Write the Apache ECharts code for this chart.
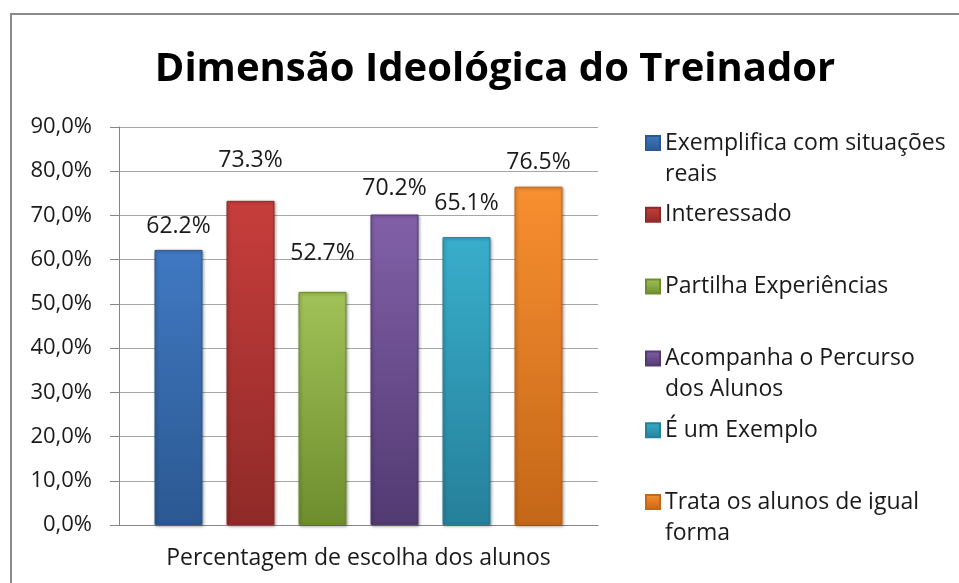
<!DOCTYPE html>
<html>
<head>
<meta charset="utf-8">
<script src="https://cdn.jsdelivr.net/npm/echarts@6/dist/echarts.min.js"></script>
<style>
  html, body { margin: 0; padding: 0; background: #fff; }
  #chart { width: 959px; height: 583px; }
</style>
</head>
<body>
<div id="chart"></div>
<script>
  // dados
  var category = ['Percentagem de escolha dos alunos'];
  var names = [
    'Exemplifica com situações reais',
    'Interessado',
    'Partilha Experiências',
    'Acompanha o Percurso dos Alunos',
    'É um Exemplo',
    'Trata os alunos de igual forma'
  ];
  var legendText = [
    'Exemplifica com situações\nreais',
    'Interessado\n ',
    'Partilha Experiências\n ',
    'Acompanha o Percurso\ndos Alunos',
    'É um Exemplo\n ',
    'Trata os alunos de igual\nforma'
  ];
  var values = [62.2, 73.3, 52.7, 70.2, 65.1, 76.5];
  var yTicks = [0, 10, 20, 30, 40, 50, 60, 70, 80, 90];

  // cores (topo, base)
  var colorsTop = ['#4079c2', '#c73e3c', '#a0c257', '#8160a8', '#38aecb', '#f88f30'];
  var colorsBottom = ['#2b5891', '#8f2a28', '#6e8d2e', '#523a72', '#26809a', '#c46718'];
  var labelDist = [12, 29, 27, 15, 22, 13];

  var font = '"Open Sans", "Noto Sans", sans-serif';
  var chart = echarts.init(document.getElementById('chart'));

  var series = [];
  for (var i = 0; i < names.length; i++) {
    series.push({
      name: names[i],
      type: 'bar',
      barWidth: 48,
      barGap: '50%',
      data: [values[i]],
      itemStyle: {
        color: new echarts.graphic.LinearGradient(0, 0, 0, 1, [
          {offset: 0, color: colorsTop[i]},
          {offset: 1, color: colorsBottom[i]}
        ]),
        borderColor: colorsBottom[i],
        borderWidth: 1,
        shadowColor: 'rgba(0,0,0,0.35)',
        shadowBlur: 3,
        shadowOffsetX: 1,
        shadowOffsetY: 1
      },
      label: {
        show: true,
        position: 'top',
        distance: labelDist[i],
        fontFamily: font,
        fontSize: 23,
        lineHeight: 23,
        color: '#1a1a1a',
        formatter: function (p) { return p.value.toFixed(1) + '%'; }
      }
    });
  }

  // linha vazia em cima para o ícone ficar ao lado da 1a linha
  var legendMap = {};
  names.forEach(function (n, i) { legendMap[n] = ' \n' + legendText[i]; });

  var option = {
    animation: false,
    backgroundColor: '#fff',
    graphic: [{
      type: 'rect',
      shape: {x: 11, y: 14, width: 1000, height: 700},
      style: {fill: 'none', stroke: '#8a8a8a', lineWidth: 2},
      silent: true
    }],
    title: {
      text: 'Dimensão Ideológica do Treinador',
      left: 490,
      textAlign: 'center',
      top: 45,
      textStyle: {
        fontFamily: font,
        fontSize: 40,
        fontWeight: 'bold',
        color: '#000'
      }
    },
    legend: {
      orient: 'vertical',
      left: 640,
      top: 91.5,
      itemWidth: 14,
      itemHeight: 14,
      itemGap: -21.2,
      icon: 'rect',
      data: names,
      formatter: function (n) { return legendMap[n]; },
      textStyle: {
        fontFamily: font,
        fontSize: 23,
        lineHeight: 31,
        color: '#1a1a1a'
      }
    },
    grid: {
      left: 119,
      right: 361,
      top: 127,
      bottom: 58
    },
    xAxis: {
      type: 'category',
      data: category,
      axisLine: {lineStyle: {color: '#868686', width: 1}},
      axisTick: {show: false},
      axisLabel: {
        margin: 22,
        fontFamily: font,
        fontSize: 23,
        color: '#1a1a1a'
      }
    },
    yAxis: {
      type: 'value',
      min: yTicks[0],
      max: yTicks[yTicks.length - 1],
      interval: 10,
      axisLine: {show: true, lineStyle: {color: '#868686'}},
      axisTick: {show: true, length: 9, lineStyle: {color: '#868686'}},
      splitLine: {lineStyle: {color: '#a6a6a6'}},
      axisLabel: {
        margin: 27,
        fontFamily: font,
        fontSize: 22,
        color: '#1a1a1a',
        formatter: function (v) { return v.toFixed(1).replace('.', ',') + '%'; }
      }
    },
    series: series
  };

  chart.setOption(option);
</script>
</body>
</html>
